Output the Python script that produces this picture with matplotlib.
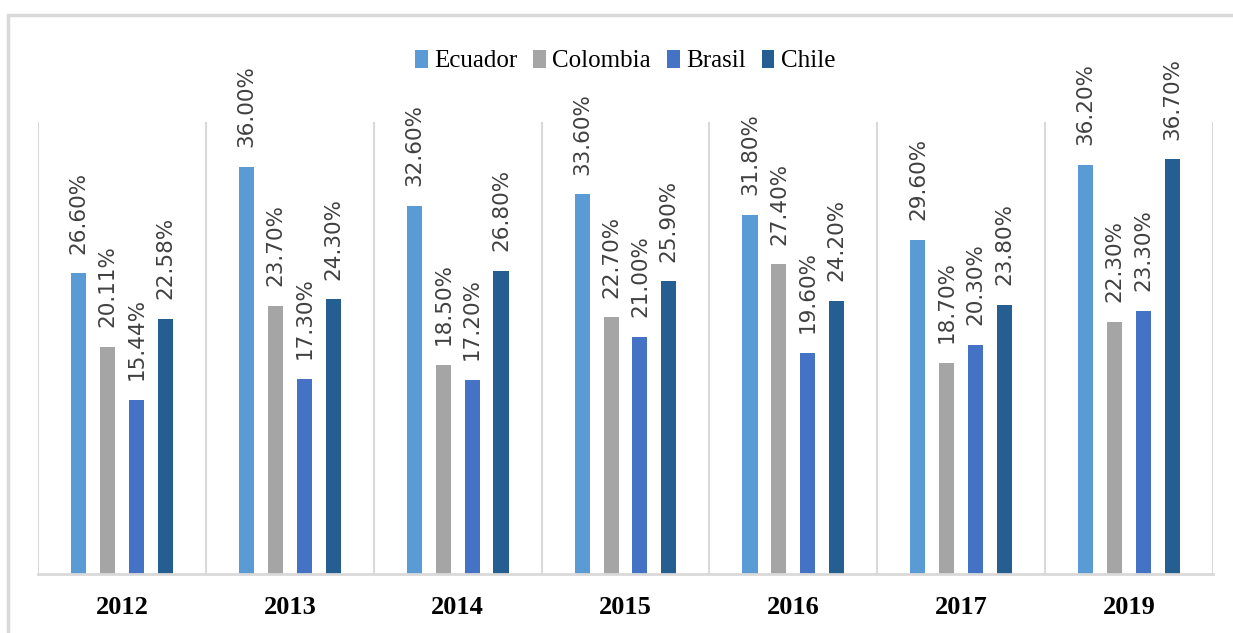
import matplotlib.pyplot as plt
import numpy as np
from matplotlib.patches import Rectangle

YEARS = ['2012', '2013', '2014', '2015', '2016', '2017', '2019']
COUNTRIES = ['Ecuador', 'Colombia', 'Brasil', 'Chile']
ECUADOR = [26.60, 36.00, 32.60, 33.60, 31.80, 29.60, 36.20]
COLOMBIA = [20.11, 23.70, 18.50, 22.70, 27.40, 18.70, 22.30]
BRASIL = [15.44, 17.30, 17.20, 21.00, 19.60, 20.30, 23.30]
CHILE = [22.58, 24.30, 26.80, 25.90, 24.20, 23.80, 36.70]
COLORS = ['#5B9BD5', '#A5A5A5', '#4472C4', '#255E91']

GRID = '#d9d9d9'


def main():
    fig = plt.figure(figsize=(12.33, 6.33), dpi=100)
    fig.patches.append(Rectangle((8 / 1233, -0.1), 1.2, 1 - 15 / 633 + 0.1,
                                 transform=fig.transFigure, fill=False,
                                 edgecolor=GRID, linewidth=2.5))
    ax = fig.add_axes([38 / 1233, 1 - 574 / 633, 1175 / 1233, 452 / 633])

    series = [ECUADOR, COLOMBIA, BRASIL, CHILE]
    x = np.arange(len(YEARS))
    width = 0.09
    step = 0.172
    for i, (name, vals) in enumerate(zip(COUNTRIES, series)):
        pos = x + (i - 1.5) * step
        bars = ax.bar(pos, vals, width, color=COLORS[i], label=name)
        for b, v in zip(bars, vals):
            ax.text(b.get_x() + b.get_width() / 2, v + 1.75, f'{v:.2f}%',
                    rotation=90, ha='center', va='bottom', fontsize=15.5,
                    color='#404040')

    ax.set_xlim(-0.5, len(YEARS) - 0.5)
    ax.set_ylim(0, 40)
    for k in range(len(YEARS) + 1):
        ax.axvline(k - 0.5, color=GRID, linewidth=1.5, zorder=0)
    for s in ['top', 'right', 'left']:
        ax.spines[s].set_visible(False)
    ax.spines['bottom'].set_color(GRID)
    ax.spines['bottom'].set_linewidth(2)
    ax.set_yticks([])
    ax.set_xticks(x)
    ax.set_xticklabels(YEARS, family='Liberation Serif', fontweight='bold',
                       fontsize=19)
    ax.tick_params(axis='x', length=0, pad=16)

    fig.legend(loc='center', bbox_to_anchor=(0.507, 1 - 61 / 633), ncol=4,
               frameon=False, prop={'family': 'Liberation Serif', 'size': 18},
               handlelength=0.5, handleheight=0.75, handletextpad=0.25,
               columnspacing=0.65, borderaxespad=0)

    fig.savefig('out.png', dpi=100)


if __name__ == '__main__':
    main()
